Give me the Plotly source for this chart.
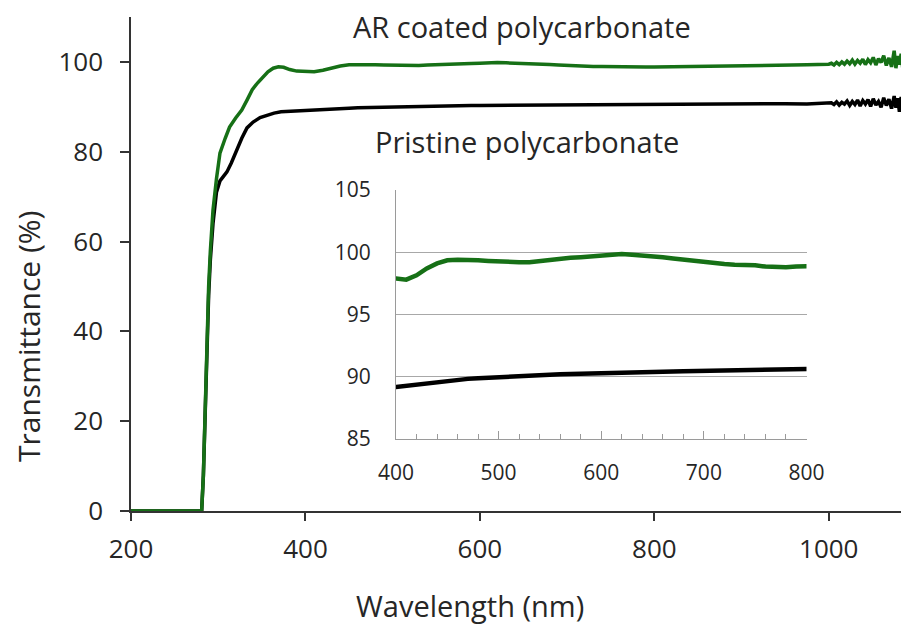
import plotly.graph_objects as go

# ---------------- data ----------------
# AR coated polycarbonate (green)
wl_ar = [200, 281, 283, 285, 287, 289, 291, 294, 298, 302, 308, 313, 320, 327, 333, 339,
         345, 351, 357, 363, 369, 375, 382, 390,
         400, 410, 420, 430, 440, 450, 460, 470, 480, 490, 500, 510, 520, 530, 540, 550,
         560, 570, 580, 590, 600, 610, 620, 630, 640, 650, 660, 670, 680, 690, 700, 710,
         720, 730, 740, 750, 760, 770, 780, 790, 800,
         825, 850, 875, 900, 925, 950, 975, 1000,
         1003, 1006, 1009, 1012, 1015, 1018, 1021, 1024, 1027, 1030, 1033, 1036, 1039,
         1042, 1045, 1048, 1051, 1054, 1057, 1060, 1063, 1066, 1069, 1072, 1075, 1077,
         1079, 1081, 1083, 1085, 1087, 1089, 1091, 1093]
t_ar = [0, 0, 8, 22, 38, 50, 58, 67, 74, 79.7, 83, 85.5, 87.5, 89.3, 91.5, 93.8,
        95.3, 96.7, 97.8, 98.6, 98.9, 98.8, 98.3, 97.95,
        97.9, 97.8, 98.15, 98.7, 99.1, 99.35, 99.4, 99.4, 99.35, 99.3, 99.25, 99.2, 99.2,
        99.2, 99.3, 99.4, 99.5, 99.55, 99.6, 99.65, 99.7, 99.8, 99.85, 99.8, 99.75, 99.7,
        99.6, 99.5, 99.4, 99.3, 99.2, 99.1, 99.05, 99.0, 99.0, 98.95, 98.85, 98.8, 98.8,
        98.85, 98.85,
        98.9, 99.0, 99.05, 99.1, 99.15, 99.2, 99.35, 99.5,
        99.7, 99.3, 99.9, 99.4, 100.0, 99.5, 100.2, 99.6, 100.4, 99.5, 100.3, 99.7, 100.6,
        99.4, 100.5, 99.8, 101.0, 99.3, 100.7, 99.9, 101.4, 99.2, 100.9, 98.9, 102.5, 98.6,
        101.3, 99.4, 101.8, 98.3, 100.6, 99.0, 100.2, 98.8]

# Pristine polycarbonate (black)
wl_pc = [200, 281, 283, 285, 287, 289, 291, 294, 298, 302, 306, 310, 315, 321, 327, 333,
         340, 348, 356, 364, 372, 380, 390,
         400, 410, 420, 430, 440, 450, 460, 470, 480, 490, 500, 510, 520, 530, 540, 550,
         560, 570, 580, 590, 600, 610, 620, 630, 640, 650, 660, 670, 680, 690, 700, 710,
         720, 730, 740, 750, 760, 770, 780, 790, 800,
         825, 850, 875, 900, 925, 950, 975, 1000,
         1003, 1006, 1009, 1012, 1015, 1018, 1021, 1024, 1027, 1030, 1033, 1036, 1039,
         1042, 1045, 1048, 1051, 1054, 1057, 1060, 1063, 1066, 1069, 1072, 1075, 1077,
         1079, 1081, 1083, 1085, 1087, 1089, 1091, 1093]
t_pc = [0, 0, 8, 22, 36, 48, 56, 64, 71, 73.5, 74.5, 75.5, 77.5, 80.4, 83, 85.3,
        86.6, 87.6, 88.2, 88.6, 88.9, 89.0, 89.1,
        89.2, 89.3, 89.4, 89.5, 89.6, 89.7, 89.78, 89.83, 89.88, 89.93, 89.98, 90.02,
        90.06, 90.1, 90.13, 90.16, 90.2, 90.22, 90.25, 90.27, 90.3, 90.31, 90.33, 90.35,
        90.37, 90.38, 90.4, 90.43, 90.45, 90.47, 90.48, 90.5, 90.52, 90.53, 90.55, 90.57,
        90.6, 90.6, 90.65, 90.6, 90.65,
        90.6, 90.65, 90.6, 90.7, 90.65, 90.7, 90.6, 90.7,
        90.9, 90.5, 91.1, 90.4, 91.0, 90.6, 91.3, 90.3, 91.2, 90.5, 91.5, 90.2, 91.4,
        90.6, 91.6, 90.1, 91.8, 90.4, 91.2, 89.9, 92.0, 90.3, 91.7, 89.6, 92.4, 89.8,
        91.9, 88.9, 92.2, 89.3, 91.5, 88.6, 91.0, 89.5]

main_xticks = [200, 400, 600, 800, 1000]
main_yticks = [0, 20, 40, 60, 80, 100]
inset_xticks = [400, 500, 600, 700, 800]
inset_yticks = [85, 90, 95, 100, 105]

# ---------------- layout helpers ----------------
OFF = 8  # default page body margin
W, H = 909 - OFF, 625 - OFF
L, R, T = 131 - OFF, 0, 17 - OFF
B = H - (511 - OFF)
PW, PH = W - L - R, H - T - B


def px(x):  # page pixel x -> paper
    return (x - OFF - L) / PW


def py(y):  # page pixel y -> paper
    return (H - B - (y - OFF)) / PH


GREEN = "#167016"
BLACK = "#000000"
TXT = "#262626"
FONT = "Open Sans"

fig = go.Figure()
fig.add_trace(go.Scatter(x=wl_pc, y=t_pc, mode="lines", line=dict(color=BLACK, width=3.5),
                         xaxis="x", yaxis="y", showlegend=False))
fig.add_trace(go.Scatter(x=wl_ar, y=t_ar, mode="lines", line=dict(color=GREEN, width=3.5),
                         xaxis="x", yaxis="y", showlegend=False))
fig.add_trace(go.Scatter(x=wl_pc, y=t_pc, mode="lines", line=dict(color=BLACK, width=4.5),
                         xaxis="x2", yaxis="y2", showlegend=False))
fig.add_trace(go.Scatter(x=wl_ar, y=t_ar, mode="lines", line=dict(color=GREEN, width=4.5),
                         xaxis="x2", yaxis="y2", showlegend=False))

fig.update_layout(
    width=W, height=H,
    margin=dict(l=L, r=R, t=T, b=B, autoexpand=False),
    paper_bgcolor="white", plot_bgcolor="white",
    font=dict(family=FONT, color=TXT, size=22),
    xaxis=dict(range=[200, 1092], tickvals=main_xticks, showgrid=False, zeroline=False,
               showline=True, linecolor="#333333", linewidth=1.5, ticks="outside",
               ticklen=8, tickwidth=1.5, tickcolor="#333333", ticklabelstandoff=6,
               tickfont=dict(size=26, family=FONT, color=TXT), domain=[0, 1]),
    yaxis=dict(range=[0, 110], tickvals=main_yticks, showgrid=False, zeroline=False,
               showline=True, linecolor="#333333", linewidth=1.5, ticks="outside",
               ticklen=9, tickwidth=1.5, tickcolor="#333333", ticklabelstandoff=12,
               tickfont=dict(size=26, family=FONT, color=TXT), domain=[0, 1]),
    xaxis2=dict(range=[400, 800], tickvals=inset_xticks, anchor="y2",
                domain=[px(396), px(806.5)], showgrid=False, zeroline=False,
                showline=True, linecolor="#9a9a9a", linewidth=1.2, ticks="inside",
                ticklen=8, tickcolor="#9a9a9a", tickwidth=1.2, ticklabelstandoff=15,
                minor=dict(ticks="inside", dtick=20, ticklen=5, tickcolor="#9a9a9a",
                           tickwidth=1.2, showgrid=False),
                tickfont=dict(size=21, family=FONT, color=TXT)),
    yaxis2=dict(range=[85, 105], tickvals=inset_yticks, anchor="x2",
                domain=[py(439), py(190)], showgrid=True, gridcolor="#a8a8a8",
                gridwidth=1.2, zeroline=False, showline=True, linecolor="#9a9a9a",
                linewidth=1.2, ticks="", ticklabelstandoff=20,
                tickfont=dict(size=21, family=FONT, color=TXT)),
)

annots = [
    dict(text="AR coated polycarbonate", x=px(522), y=py(27), size=29),
    dict(text="Pristine polycarbonate", x=px(527), y=py(141), size=29),
    dict(text="Wavelength (nm)", x=px(470), y=py(605), size=29),
]
for a in annots:
    fig.add_annotation(text=a["text"], x=a["x"], y=a["y"], xref="paper", yref="paper",
                       showarrow=False, xanchor="center", yanchor="middle", borderpad=0,
                       font=dict(size=a["size"], family=FONT, color=TXT))
fig.add_annotation(text="Transmittance (%)", x=px(28), y=py(337), xref="paper", yref="paper",
                   showarrow=False, textangle=-90, xanchor="center", yanchor="middle",
                   borderpad=0, font=dict(size=30, family=FONT, color=TXT))

fig.write_html("out.html")
